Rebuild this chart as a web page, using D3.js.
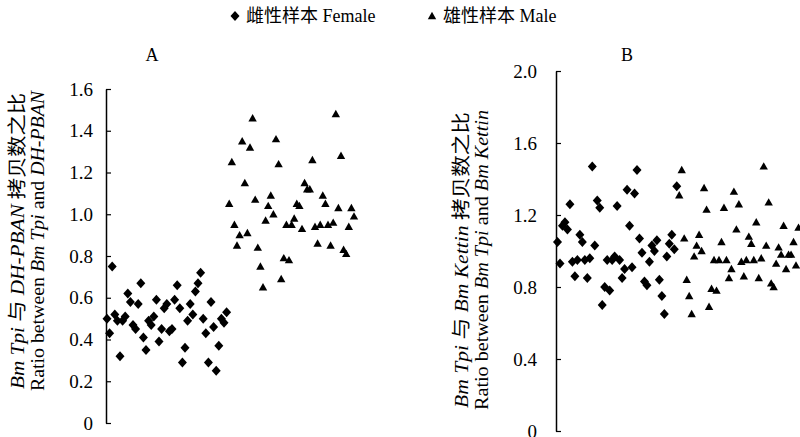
<!DOCTYPE html>
<html>
<head>
<meta charset="utf-8">
<script src="https://cdn.jsdelivr.net/npm/d3@7"></script>
<style>
  body { margin: 0; background: #fff; }
  svg { display: block; }
  text { font-family: "Liberation Serif", "Noto Sans CJK SC", serif; fill: #000; }
  .cjk { font-family: "Noto Sans CJK SC", sans-serif; }
</style>
</head>
<body>
<div id="chart"></div>
<script>
/* Panel A: Bm Tpi / DH-PBAN */
const FEMALE_A = [0.50, 0.43, 0.75, 0.52, 0.49, 0.32, 0.49, 0.51, 0.62, 0.58, 0.47, 0.45,
  0.57, 0.67, 0.41, 0.35, 0.49, 0.47, 0.51, 0.59, 0.39, 0.45, 0.55, 0.57, 0.44, 0.45,
  0.59, 0.66, 0.55, 0.29, 0.36, 0.49, 0.57, 0.52, 0.63, 0.67, 0.72, 0.50, 0.43, 0.29,
  0.58, 0.46, 0.25, 0.37, 0.50, 0.48, 0.53];
const MALE_A = [1.05, 1.25, 0.95, 0.85, 0.90, 1.35, 1.15, 0.91, 1.32, 1.46, 1.07, 0.84,
  0.75, 0.65, 0.97, 1.04, 1.09, 1.00, 1.36, 1.24, 0.69, 0.79, 0.95, 0.78, 0.95, 0.98,
  1.05, 1.04, 0.93, 1.15, 1.12, 1.12, 1.26, 0.94, 0.86, 0.95, 1.09, 1.05, 0.95, 0.85,
  0.96, 1.48, 1.03, 1.28, 0.83, 0.81, 0.94, 1.03, 0.99];

/* Panel B: Bm Tpi / Bm Kettin */
const FEMALE_B = [1.05, 0.93, 1.14, 1.16, 1.12, 1.26, 0.94, 0.86, 0.95, 1.09, 1.05, 0.95,
  0.85, 0.96, 1.47, 1.03, 1.28, 1.24, 0.70, 0.80, 0.95, 0.78, 0.95, 0.97, 1.25, 0.95,
  0.85, 0.90, 1.34, 1.14, 0.91, 1.32, 1.45, 1.07, 0.99, 0.83, 0.81, 0.94, 1.03, 1.00,
  1.06, 0.84, 0.75, 0.65, 0.97, 1.04, 1.09, 1.01, 1.36];
const MALE_B = [1.31, 1.45, 1.07, 0.84, 0.75, 0.65, 0.97, 1.03, 1.09, 1.00, 1.35, 1.23,
  0.69, 0.79, 0.95, 0.78, 0.95, 1.05, 1.24, 0.95, 0.85, 0.90, 1.33, 1.12, 1.26, 0.94,
  0.86, 0.95, 1.08, 1.04, 0.95, 1.16, 0.85, 0.96, 1.47, 1.03, 1.27, 0.82, 0.80, 0.93,
  1.02, 0.98, 1.14, 0.90, 0.98, 0.98, 1.05, 0.92, 1.13];

const TICKS_A = [0, 0.2, 0.4, 0.6, 0.8, 1.0, 1.2, 1.4, 1.6];
const TICKS_B = [0, 0.4, 0.8, 1.2, 1.6, 2.0];

const WIDTH = 800;
const HEIGHT = 437;

const DIAMOND = 'M0,-5L4.5,0L0,5L-4.5,0Z';
const TRIANGLE = 'M0,-4.2L4.2,3.2L-4.2,3.2Z';

const svg = d3.select('#chart').append('svg')
    .attr('width', WIDTH)
    .attr('height', HEIGHT)
    .style('background', '#fff');

/* Legend */
const legend = svg.append('g');
legend.append('path').attr('d', DIAMOND).attr('transform', 'translate(235,16)');
legend.append('text').attr('x', 246).attr('y', 22).style('font-size', '18px')
    .html('<tspan class="cjk">雌性样本</tspan> Female');
legend.append('path').attr('d', TRIANGLE).attr('transform', 'translate(432,16)');
legend.append('text').attr('x', 443).attr('y', 22).style('font-size', '18px')
    .html('<tspan class="cjk">雄性样本</tspan> Male');

function drawPanel(opt) {
    const g = svg.append('g');
    const n = opt.female.length + opt.male.length;

    const y = d3.scaleLinear().domain([0, opt.max]).range([opt.bottom, opt.top]);
    const x = d3.scaleLinear().domain([0, n - 1]).range([opt.x0, opt.x1]);

    const axis = d3.axisLeft(y)
        .tickValues(opt.ticks)
        .tickSizeInner(-5)
        .tickSizeOuter(0)
        .tickPadding(opt.pad)
        .tickFormat(d => d === 0 ? '0' : d.toFixed(1));

    const ax = g.append('g').attr('transform', `translate(${opt.axisX},0)`).call(axis);
    ax.select('.domain').attr('stroke-width', 1.5);
    ax.selectAll('.tick line').attr('stroke-width', 1.2);
    ax.selectAll('.tick text')
        .style('font-family', '"Liberation Serif", serif')
        .style('font-size', '19px');

    g.append('text')
        .attr('x', opt.titleX).attr('y', 61)
        .attr('text-anchor', 'middle')
        .style('font-size', '18px')
        .text(opt.title);

    // two-line rotated y title, stretched like the original
    const lab = g.append('g')
        .attr('transform', `translate(${opt.labX},${opt.labY}) rotate(-90)`);
    lab.append('text').attr('text-anchor', 'middle').attr('y', 0)
        .attr('textLength', 296).attr('lengthAdjust', 'spacingAndGlyphs')
        .style('font-size', '19px').html(opt.label1);
    lab.append('text').attr('text-anchor', 'middle').attr('y', 20)
        .attr('textLength', 300).attr('lengthAdjust', 'spacingAndGlyphs')
        .style('font-size', '19px').html(opt.label2);

    const fem = opt.female.map((v, i) => ({ i: i, v: v }));
    const mal = opt.male.map((v, i) => ({ i: i + opt.female.length, v: v }));

    g.selectAll('.female').data(fem).enter().append('path').classed('female', true)
        .attr('d', DIAMOND)
        .attr('transform', d => `translate(${x(d.i)},${y(d.v)})`);

    g.selectAll('.male').data(mal).enter().append('path').classed('male', true)
        .attr('d', TRIANGLE)
        .attr('transform', d => `translate(${x(d.i)},${y(d.v)})`);
}

drawPanel({
    female: FEMALE_A, male: MALE_A, ticks: TICKS_A, max: 1.6,
    top: 89, bottom: 423, axisX: 106, pad: 13, x0: 107, x1: 354,
    title: 'A', titleX: 152,
    labX: 24, labY: 241,
    label1: '<tspan font-style="italic">Bm Tpi</tspan> <tspan class="cjk">与</tspan> <tspan font-style="italic">DH-PBAN</tspan> <tspan class="cjk">拷贝数之比</tspan>',
    label2: 'Ratio between <tspan font-style="italic">Bm Tpi</tspan> and <tspan font-style="italic">DH-PBAN</tspan>'
});

drawPanel({
    female: FEMALE_B, male: MALE_B, ticks: TICKS_B, max: 2.0,
    top: 71, bottom: 431, axisX: 556, pad: 19, x0: 557.5, x1: 798.5,
    title: 'B', titleX: 627,
    labX: 468, labY: 260,
    label1: '<tspan font-style="italic">Bm Tpi</tspan> <tspan class="cjk">与</tspan> <tspan font-style="italic">Bm Kettin</tspan> <tspan class="cjk">拷贝数之比</tspan>',
    label2: 'Ratio between <tspan font-style="italic">Bm Tpi</tspan> and <tspan font-style="italic">Bm Kettin</tspan>'
});
</script>
</body>
</html>
